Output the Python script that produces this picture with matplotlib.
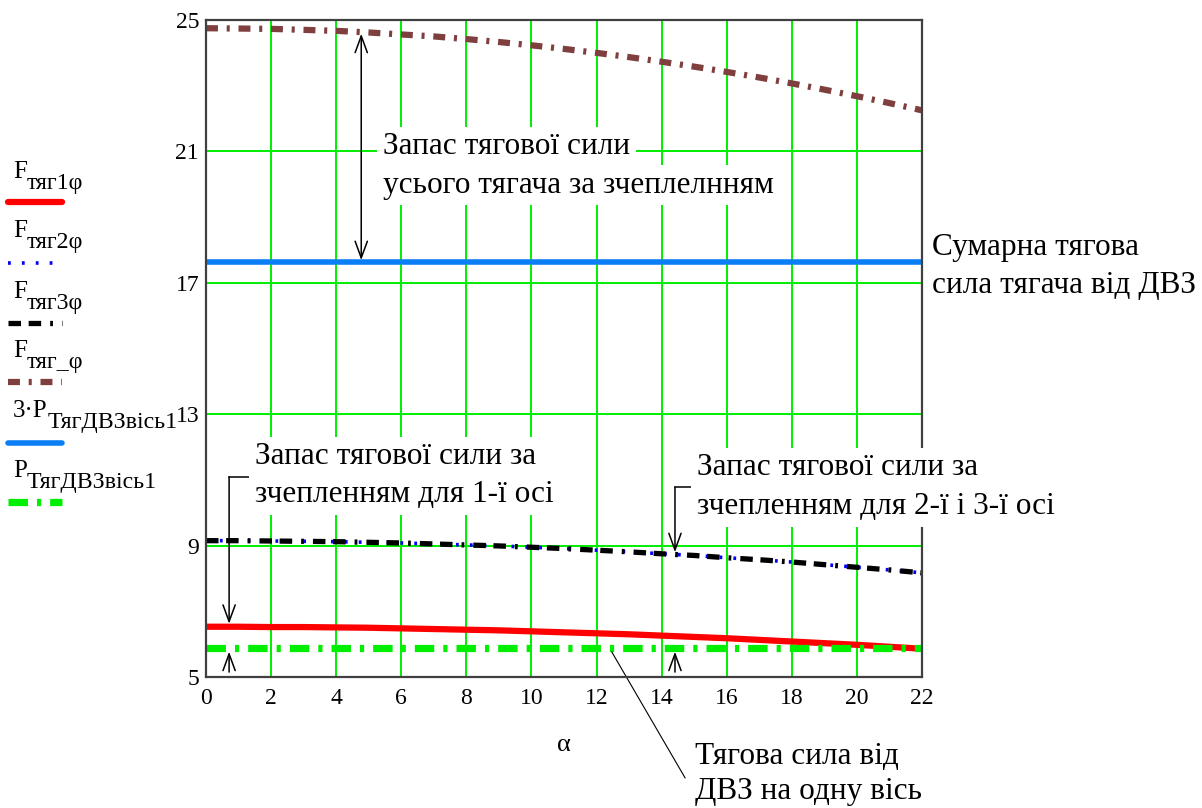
import matplotlib
matplotlib.use("Agg")
import matplotlib.pyplot as plt
from matplotlib.lines import Line2D
import numpy as np

plt.rcParams["font.family"] = ["Liberation Serif", "DejaVu Serif"]
plt.rcParams["lines.scale_dashes"] = False

# ---- data -------------------------------------------------------------
alpha = list(range(0, 23))
f_tyag1 = [6.53, 6.53, 6.52, 6.52, 6.51, 6.50, 6.48, 6.46, 6.44, 6.42, 6.39, 6.36,
           6.33, 6.30, 6.26, 6.22, 6.18, 6.13, 6.08, 6.03, 5.98, 5.92, 5.86]
f_tyag2 = [9.15, 9.15, 9.14, 9.13, 9.12, 9.10, 9.08, 9.05, 9.02, 8.99, 8.95, 8.91,
           8.86, 8.81, 8.75, 8.70, 8.63, 8.57, 8.50, 8.42, 8.34, 8.26, 8.17]
f_tyag3 = [9.15, 9.15, 9.14, 9.13, 9.12, 9.10, 9.08, 9.05, 9.02, 8.99, 8.95, 8.91,
           8.86, 8.81, 8.75, 8.70, 8.63, 8.57, 8.50, 8.42, 8.34, 8.26, 8.17]
f_tyag_sum = [24.75, 24.74, 24.73, 24.70, 24.67, 24.62, 24.56, 24.50, 24.42, 24.33,
              24.23, 24.12, 24.00, 23.87, 23.73, 23.58, 23.42, 23.25, 23.07, 22.88,
              22.68, 22.47, 22.25]
p_dvz_axle = 5.88            # P_ТягДВЗвісь1
p_dvz_total = 3 * p_dvz_axle  # 3·P_ТягДВЗвісь1

x_ticks = [0, 2, 4, 6, 8, 10, 12, 14, 16, 18, 20, 22]
y_ticks = [5, 9, 13, 17, 21, 25]

# legend names: (main symbol, subscript)
legend_names = [("F", "тяг1φ"),
                ("F", "тяг2φ"),
                ("F", "тяг3φ"),
                ("F", "тяг_φ"),
                ("3·P", "ТягДВЗвісь1"),
                ("P", "ТягДВЗвісь1")]

# ---- styles -----------------------------------------------------------
styles = [
    dict(color="#ff0000", lw=4.5, ls="-", solid_capstyle="butt"),
    dict(color="#0000ff", lw=2.6, ls=(0, (2.0, 8.0))),
    dict(color="#000000", lw=3.8, ls=(0, (9.0, 5.5, 9.0, 6.5, 2.0, 6.5))),
    dict(color="#7f3f3f", lw=4.5, ls=(0, (8.6, 6.3, 2.2, 6.3))),
    dict(color="#0a7ff5", lw=4.0, ls="-", solid_capstyle="butt"),
    dict(color="#00ee00", lw=5.2, ls=(0, (14.0, 6.5, 3.0, 6.5))),
]

W, H = 1202, 808
fig = plt.figure(figsize=(W / 100, H / 100), dpi=100)
fig.patch.set_facecolor("white")
renderer = fig.canvas.get_renderer()


def fx(px):
    return px / W


def fy(py):
    return 1 - py / H


ax = fig.add_axes([fx(206), fy(677), (922 - 206) / W, (677 - 20) / H])

n = len(alpha)
series = [f_tyag1, f_tyag2, f_tyag3, f_tyag_sum,
          [p_dvz_total] * n, [p_dvz_axle] * n]
for ys, st in zip(series, styles):
    ax.plot(alpha, ys, **st)

ax.set_xlim(0, 22)
ax.set_ylim(5, 25)
ax.set_xticks(x_ticks)
ax.set_yticks(y_ticks)
ax.grid(True, color="#00ee00", lw=1.4)
ax.set_axisbelow(True)
ax.tick_params(length=0, labelsize=17, pad=8)
ax.tick_params(axis="y", pad=5)
for sp in ax.spines.values():
    sp.set_color("#404040")
    sp.set_linewidth(1.6)

ax.set_xlabel("α", fontsize=19, labelpad=18)

# ---- legend drawn at the left edge ------------------------------------
label_base = [178, 237, 298, 357, 417, 477]
sample_y = [202, 263, 323, 382, 443, 502]
for (main, sub), st, yb, ys in zip(legend_names, styles, label_base, sample_y):
    t = fig.text(fx(13), fy(yb), main, fontsize=18, ha="left", va="baseline")
    bb = t.get_window_extent(renderer)
    fig.text(bb.x1 / W, fy(yb + 11), sub, fontsize=17.2,
             ha="left", va="baseline")
    kw = dict(st)
    if kw.get("ls") == "-":
        kw["solid_capstyle"] = "round"
    fig.add_artist(Line2D([fx(8), fx(62)], [fy(ys), fy(ys)], **kw))

# ---- annotations ------------------------------------------------------
txt_kw = dict(fontsize=22.5, ha="left", va="center",
              bbox=dict(facecolor="white", edgecolor="none", pad=4))


def note(px, py, s, boxed=True):
    kw = dict(txt_kw)
    if not boxed:
        kw.pop("bbox")
    fig.text(fx(px), fy(py), s, **kw)


note(383, 147, "Запас тягової сили")
note(383, 185, "усього тягача за зчеплелнням")
note(932, 247, "Сумарна тягова", boxed=False)
note(932, 285, "сила тягача від ДВЗ", boxed=False)
note(255, 457, "Запас тягової сили за")
note(255, 495, "зчепленням для 1-ї осі")
note(697, 468, "Запас тягової сили за")
note(697, 507, "зчепленням для 2-ї і 3-ї осі")
note(695, 757, "Тягова сила від", boxed=False)
note(695, 792, "ДВЗ на одну вісь", boxed=False)

arrow = dict(arrowstyle="->,head_length=0.6,head_width=0.22",
             color="black", lw=1.1, shrinkA=0, shrinkB=0, mutation_scale=20)
arrow2 = dict(arrow, arrowstyle="<->,head_length=0.6,head_width=0.22")

# margin of the whole tractor over the engine force
a_top = 4.77
ax.annotate("", xy=(a_top, np.interp(a_top, alpha, f_tyag_sum) - 0.05),
            xytext=(a_top, p_dvz_total + 0.05), arrowprops=arrow2)

# margin for the first axle
a1 = 0.71
ax.plot([1.35, a1], [11.09, 11.09], color="black", lw=1.1, clip_on=False)
ax.annotate("", xy=(a1, np.interp(a1, alpha, f_tyag1) + 0.09),
            xytext=(a1, 11.09), arrowprops=arrow)
ax.annotate("", xy=(a1, p_dvz_axle - 0.11), xytext=(a1, 5.15),
            arrowprops=arrow)

# margin for the second and third axles
a3 = 14.41
ax.plot([14.93, a3], [10.78, 10.78], color="black", lw=1.1, clip_on=False)
ax.annotate("", xy=(a3, np.interp(a3, alpha, f_tyag3) + 0.07),
            xytext=(a3, 10.78), arrowprops=arrow)
ax.annotate("", xy=(a3, p_dvz_axle - 0.11), xytext=(a3, 5.15),
            arrowprops=arrow)

# leader to the single-axle engine force
ax.plot([12.47, 14.72], [p_dvz_axle - 0.12, 1.93], color="black", lw=0.8,
        clip_on=False)

fig.savefig("out.png", dpi=100, facecolor="white")
